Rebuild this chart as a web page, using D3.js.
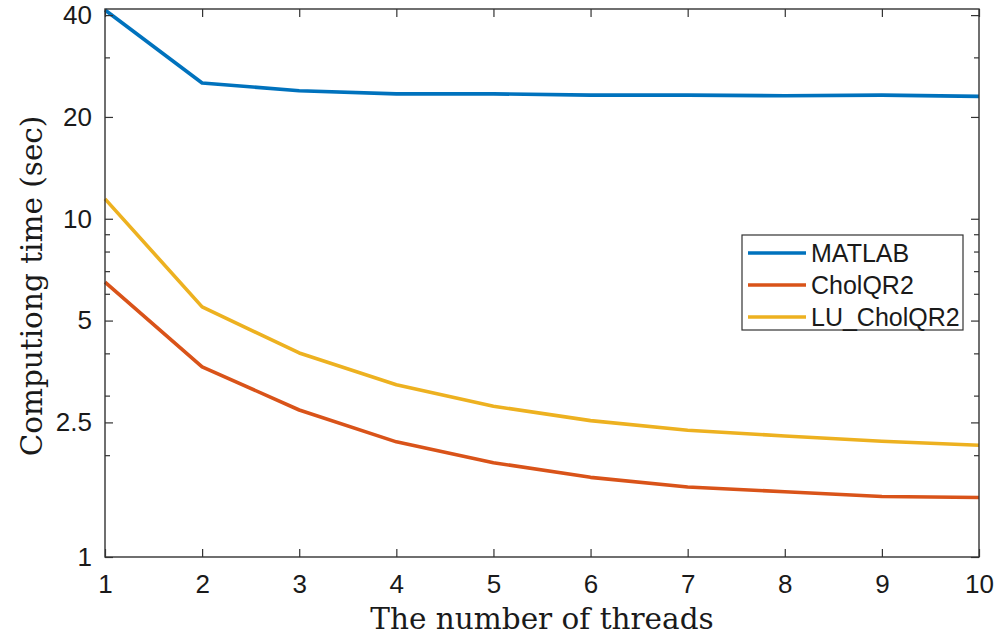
<!DOCTYPE html>
<html>
<head>
<meta charset="utf-8">
<script src="https://cdn.jsdelivr.net/npm/d3@7"></script>
<style>
  body { margin: 0; background: #fff; }
  svg { display: block; }
</style>
</head>
<body>
<svg id="chart" width="999" height="640"></svg>
<script>
// ---- data ----
const threads = [1, 2, 3, 4, 5, 6, 7, 8, 9, 10];
const matlab = [41.4, 25.2, 23.9, 23.4, 23.4, 23.2, 23.2, 23.1, 23.2, 23.0];
const cholQR2 = [6.50, 3.65, 2.72, 2.19, 1.90, 1.72, 1.61, 1.56, 1.51, 1.50];
const luCholQR2 = [11.45, 5.49, 4.01, 3.23, 2.79, 2.53, 2.37, 2.28, 2.20, 2.14];
const seriesNames = ["MATLAB", "CholQR2", "LU_CholQR2"];
const seriesColors = ["#0072BD", "#D95319", "#EDB120"];
const yMajorTicks = [1, 2.5, 5, 10, 20, 40];
const yMinorTicks = [2, 3, 4, 6, 7, 8, 9, 30];
const xTicks = [1, 2, 3, 4, 5, 6, 7, 8, 9, 10];
const xLabel = "The number of threads";
const yLabel = "Computiong time (sec)";

// ---- layout ----
const svg = d3.select("#chart");
const L = 105, R = 979, T = 9, B = 557;
const x = d3.scaleLinear().domain([1, 10]).range([L, R]);
const y = d3.scaleLog().domain([1, 41.7]).range([B, T]);
const axisColor = "#333333";
const tickFont = "'Liberation Sans', Arial, sans-serif";
const serifFont = "'DejaVu Serif', 'Liberation Serif', serif";

// lines
const series = [matlab, cholQR2, luCholQR2];
const line = d3.line().x((d, i) => x(threads[i])).y(d => y(d));
series.forEach((s, k) => {
  svg.append("path")
    .datum(s)
    .attr("d", line)
    .attr("fill", "none")
    .attr("stroke", seriesColors[k])
    .attr("stroke-width", 3.6)
    .attr("stroke-linejoin", "round");
});

// axes (ticks inward on all four sides)
const gBottom = svg.append("g").attr("transform", `translate(0,${B})`)
  .call(d3.axisBottom(x).tickValues(xTicks).tickSize(-8).tickPadding(18).tickFormat(d3.format("d")));
const gTop = svg.append("g").attr("transform", `translate(0,${T})`)
  .call(d3.axisTop(x).tickValues(xTicks).tickSize(-8).tickFormat(""));
const gLeft = svg.append("g").attr("transform", `translate(${L},0)`)
  .call(d3.axisLeft(y).tickValues(yMajorTicks).tickSize(-8).tickPadding(13).tickFormat(d => String(d)));
const gLeftMinor = svg.append("g").attr("transform", `translate(${L},0)`)
  .call(d3.axisLeft(y).tickValues(yMinorTicks).tickSize(-5).tickFormat(""));
const gRight = svg.append("g").attr("transform", `translate(${R},0)`)
  .call(d3.axisRight(y).tickValues(yMajorTicks).tickSize(-8).tickFormat(""));
const gRightMinor = svg.append("g").attr("transform", `translate(${R},0)`)
  .call(d3.axisRight(y).tickValues(yMinorTicks).tickSize(-5).tickFormat(""));

[gBottom, gTop, gLeft, gLeftMinor, gRight, gRightMinor].forEach(g => {
  g.select(".domain").remove();
  g.selectAll(".tick line").attr("stroke", axisColor).attr("stroke-width", 1.2);
  g.selectAll(".tick text").attr("fill", "#1a1a1a").attr("font-family", tickFont).attr("font-size", 26);
});
gBottom.selectAll(".tick text").attr("dy", "0.71em");

// box
svg.append("rect")
  .attr("x", L).attr("y", T).attr("width", R - L).attr("height", B - T)
  .attr("fill", "none").attr("stroke", axisColor).attr("stroke-width", 1.4);

// axis labels
svg.append("text")
  .attr("x", (L + R) / 2).attr("y", 629)
  .attr("text-anchor", "middle")
  .attr("font-family", serifFont).attr("font-size", 29.5)
  .attr("fill", "#1a1a1a")
  .text(xLabel);
svg.append("text")
  .attr("transform", `translate(42,${(T + B) / 2 + 3}) rotate(-90)`)
  .attr("text-anchor", "middle")
  .attr("font-family", serifFont).attr("font-size", 29.5)
  .attr("fill", "#1a1a1a")
  .text(yLabel);

// legend
const lg = svg.append("g");
lg.append("rect")
  .attr("x", 742).attr("y", 235).attr("width", 221).attr("height", 95)
  .attr("fill", "#fff").attr("stroke", axisColor).attr("stroke-width", 1.2);
seriesNames.forEach((name, k) => {
  const cy = 253 + k * 32;
  lg.append("line")
    .attr("x1", 748).attr("x2", 806).attr("y1", cy).attr("y2", cy)
    .attr("stroke", seriesColors[k]).attr("stroke-width", 3.6);
  lg.append("text")
    .attr("x", 811).attr("y", cy).attr("dy", "0.35em")
    .attr("font-family", tickFont).attr("font-size", 25)
    .attr("fill", "#1a1a1a")
    .text(name);
});
</script>
</body>
</html>
